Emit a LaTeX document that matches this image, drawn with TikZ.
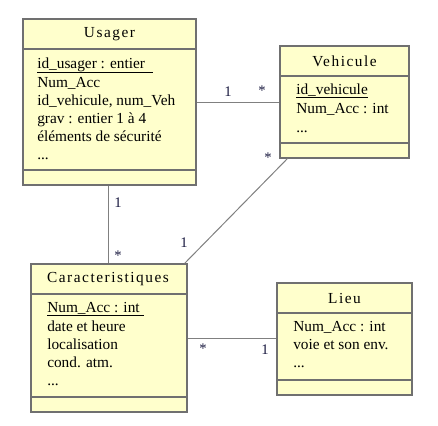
\documentclass[tikz,border=0pt]{standalone}
\usepackage{fontspec}
\setmainfont{Liberation Serif}
\usetikzlibrary{fit}
\definecolor{clsfill}{HTML}{FFFFCC}
\definecolor{clsdraw}{HTML}{707070}
\definecolor{linkcol}{HTML}{808080}
\definecolor{labcol}{HTML}{1A1A40}
\tikzset{
  cls/.style={draw=clsdraw, fill=clsfill, line width=0.8pt, inner sep=0pt},
  sepline/.style={draw=clsdraw, line width=0.8pt},
  ttl/.style={font=\fontsize{11.5}{13}\selectfont\addfontfeature{LetterSpace=10}, inner sep=0pt, anchor=center},
  attr/.style={font=\fontsize{11.5}{13}\selectfont, inner sep=0pt, anchor=base west},
  link/.style={draw=linkcol, line width=0.75pt},
  mult/.style={font=\fontsize{11}{13}\selectfont, text=labcol, inner sep=0pt, anchor=center},
  ul/.style={draw=black, line width=0.6pt}
}
\begin{document}
\begin{tikzpicture}[x=0.75pt,y=-0.75pt]
\useasboundingbox (0,0) rectangle (438,425);
% Usager
\coordinate (u1) at (23,19); \coordinate (u2) at (196,185);
\node[cls, fit=(u1)(u2)] (usager) {};
\draw[sepline] (usager.west |- 0,49) -- (usager.east |- 0,49);
\draw[sepline] (usager.west |- 0,170) -- (usager.east |- 0,170);
\node[ttl] (usagerT) at (109.5,34) {Usager};
\node[attr] (ua1) at (37,68) {id\_usager : entier};
\draw[ul] (37,72) -- (153,72);
\node[attr] (ua2) at (37,87) {Num\_Acc};
\node[attr] (ua3) at (37,105) {id\_vehicule, num\_Veh};
\node[attr] (ua4) at (37,123) {grav : entier 1 à 4};
\node[attr] (ua5) at (37,141) {éléments de sécurité};
\node[attr] (ua6) at (37,159) {...};
% Vehicule
\coordinate (v1) at (280,46); \coordinate (v2) at (409,158);
\node[cls, fit=(v1)(v2)] (vehicule) {};
\draw[sepline] (vehicule.west |- 0,76) -- (vehicule.east |- 0,76);
\draw[sepline] (vehicule.west |- 0,143) -- (vehicule.east |- 0,143);
\node[ttl] (vehiculeT) at (344.5,61) {Vehicule};
\node[attr] (va1) at (296,94) {id\_vehicule};
\draw[ul] (296,97) -- (368,97);
\node[attr] (va2) at (296,113) {Num\_Acc : int};
\node[attr] (va3) at (296,132) {...};
% Caracteristiques
\coordinate (c1) at (31,264); \coordinate (c2) at (187,412);
\node[cls, fit=(c1)(c2)] (caract) {};
\draw[sepline] (caract.west |- 0,294) -- (caract.east |- 0,294);
\draw[sepline] (caract.west |- 0,397) -- (caract.east |- 0,397);
\node[ttl] (caractT) at (108,279) {Caracteristiques};
\node[attr] (ca1) at (47,312) {Num\_Acc : int};
\draw[ul] (47,315.5) -- (144,315.5);
\node[attr] (ca2) at (47,331) {date et heure};
\node[attr] (ca3) at (47,349) {localisation};
\node[attr] (ca4) at (47,367) {cond. atm.};
\node[attr] (ca5) at (47,385) {...};
% Lieu
\coordinate (l1) at (277,283); \coordinate (l2) at (412,395);
\node[cls, fit=(l1)(l2)] (lieu) {};
\draw[sepline] (lieu.west |- 0,313) -- (lieu.east |- 0,313);
\draw[sepline] (lieu.west |- 0,380) -- (lieu.east |- 0,380);
\node[ttl] (lieuT) at (344.5,298) {Lieu};
\node[attr] (la1) at (293,331) {Num\_Acc : int};
\node[attr] (la2) at (293,349) {voie et son env.};
\node[attr] (la3) at (293,367) {...};
% Links
\draw[link] (usager.east) -- (vehicule.west);
\draw[link] (usager.south -| 108,0) -- (caract.north -| 108,0);
\draw[link] ([xshift=-2.25pt]caract.north east) -- ([xshift=6pt]vehicule.south west);
\draw[link] (caract.east) -- (lieu.west |- caract.east);
% Multiplicities
\node[mult] (m1) at (228,92) {1};
\node[mult] (m2) at (262,91) {*};
\node[mult] (m3) at (118,203) {1};
\node[mult] (m4) at (118,256) {*};
\node[mult] (m5) at (184,243) {1};
\node[mult] (m6) at (268,158) {*};
\node[mult] (m7) at (203,349) {*};
\node[mult] (m8) at (265,350) {1};
\end{tikzpicture}
\end{document}
